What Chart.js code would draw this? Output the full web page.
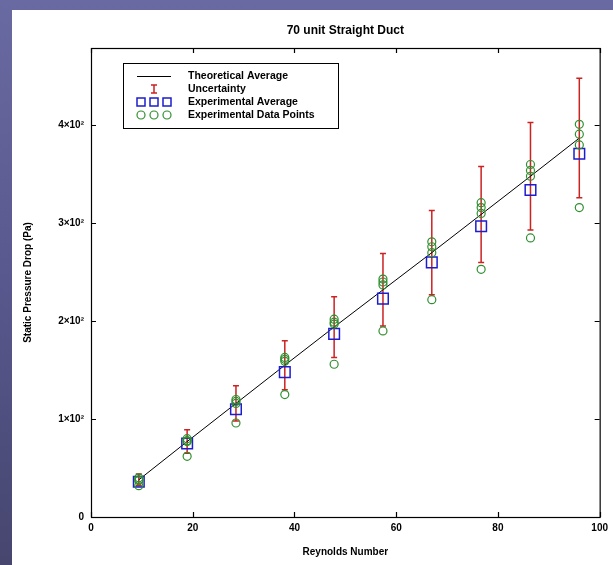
<!DOCTYPE html>
<html><head><meta charset="utf-8">
<script src="https://cdn.jsdelivr.net/npm/chart.js@4.4.1/dist/chart.umd.min.js"></script>
<style>
html,body{margin:0;padding:0;}
body{width:613px;height:565px;position:relative;overflow:hidden;background:linear-gradient(180deg,#6a6aa2 0%,#58588e 50%,#46466f 100%);}
#paper{position:absolute;left:12px;top:10px;right:0;bottom:0;background:#fff;}
canvas{position:absolute;left:0;top:0;}
</style></head><body>
<div id="paper"></div>
<canvas id="c" width="613" height="565"></canvas>
<script>
const chartTitle = '70 unit Straight Duct';
const xAxisTitle = 'Reynolds Number';
const yAxisTitle = 'Static Pressure Drop (Pa)';
const legendLabels = ['Theoretical Average', 'Uncertainty', 'Experimental Average', 'Experimental Data Points'];

const reynolds        = [9.4, 18.9, 28.5, 38.1, 47.8, 57.4, 67.0, 76.7, 86.4, 96.0];
const theoreticalAvg  = [38, 77, 116, 155, 194, 232, 270, 309, 348, 387];
const uncertainty     = [6, 12, 18, 25, 31, 37, 43, 49, 55, 61];
const experimentalAvg = [36, 75, 110, 148, 187, 223, 260, 297, 334, 371];
const trial1 = [40, 80, 120, 163, 202, 243, 281, 321, 360, 401];
const trial2 = [38, 78, 118, 161, 199, 240, 276, 316, 354, 391];
const trial3 = [37, 77, 116, 159, 197, 237, 270, 310, 348, 380];
const trial4 = [32, 62, 96, 125, 156, 190, 222, 253, 285, 316];

const xTicks = [0, 20, 40, 60, 80, 100];
const yTicks = [0, 100, 200, 300, 400];

const FONT = '"Liberation Sans", Arial, sans-serif';
const RED = '#cc2222', BLUE = '#1c1cd0', GREEN = '#2f8f2f';

const pts = ys => reynolds.map((r, i) => ({x: r, y: ys[i]}));
const allTrialPoints = [trial1, trial2, trial3, trial4].flatMap(t => pts(t));

const errorBars = {
  id: 'errorBars',
  beforeDatasetsDraw(chart) {
    const {ctx, scales: {x, y}} = chart;
    ctx.save();
    ctx.strokeStyle = RED; ctx.lineWidth = 1.5;
    reynolds.forEach((r, i) => {
      const px = x.getPixelForValue(r);
      const t = y.getPixelForValue(theoreticalAvg[i] + uncertainty[i]);
      const b = y.getPixelForValue(theoreticalAvg[i] - uncertainty[i]);
      ctx.beginPath();
      ctx.moveTo(px, t); ctx.lineTo(px, b);
      ctx.moveTo(px - 3, t); ctx.lineTo(px + 3, t);
      ctx.moveTo(px - 3, b); ctx.lineTo(px + 3, b);
      ctx.stroke();
    });
    ctx.restore();
  }
};

const frame = {
  id: 'frame',
  afterDraw(chart) {
    const {ctx, chartArea: a, scales: {x, y}} = chart;
    ctx.save();
    ctx.strokeStyle = '#000'; ctx.lineWidth = 1.2;
    ctx.strokeRect(a.left + 0.5, a.top + 0.5, a.right - a.left, a.bottom - a.top);
    ctx.beginPath();
    x.ticks.forEach(t => {
      const px = Math.round(x.getPixelForValue(t.value)) + 0.5;
      ctx.moveTo(px, a.bottom); ctx.lineTo(px, a.bottom - 5);
      ctx.moveTo(px, a.top); ctx.lineTo(px, a.top + 5);
    });
    y.ticks.forEach(t => {
      const py = Math.round(y.getPixelForValue(t.value)) + 0.5;
      ctx.moveTo(a.left, py); ctx.lineTo(a.left + 5, py);
      ctx.moveTo(a.right, py); ctx.lineTo(a.right - 5, py);
    });
    ctx.stroke();
    // title
    ctx.fillStyle = '#000';
    ctx.font = 'bold 12px ' + FONT;
    ctx.textAlign = 'center'; ctx.textBaseline = 'middle';
    ctx.fillText(chartTitle, (a.left + a.right) / 2, 31);
    // legend
    const L = 123, T = 63, W = 215, H = 65;
    ctx.fillStyle = '#fff';
    ctx.fillRect(L, T, W, H);
    ctx.lineWidth = 1;
    ctx.strokeRect(L + 0.5, T + 0.5, W, H);
    const rows = [T + 13, T + 26, T + 39, T + 52];
    ctx.font = 'bold 10.5px ' + FONT;
    ctx.textAlign = 'left';
    ctx.fillStyle = '#000';
    legendLabels.forEach((s, i) => ctx.fillText(s, 188, rows[i]));
    const cx = 154;
    ctx.beginPath(); ctx.strokeStyle = '#000'; ctx.lineWidth = 1;
    ctx.moveTo(137, rows[0] + 0.5); ctx.lineTo(171, rows[0] + 0.5); ctx.stroke();
    ctx.beginPath(); ctx.strokeStyle = RED; ctx.lineWidth = 1.5;
    ctx.moveTo(cx, rows[1] - 4); ctx.lineTo(cx, rows[1] + 4);
    ctx.moveTo(cx - 3, rows[1] - 4); ctx.lineTo(cx + 3, rows[1] - 4);
    ctx.moveTo(cx - 3, rows[1] + 4); ctx.lineTo(cx + 3, rows[1] + 4);
    ctx.stroke();
    ctx.strokeStyle = BLUE; ctx.lineWidth = 1.5;
    [-13, 0, 13].forEach(d => ctx.strokeRect(cx + d - 4, rows[2] - 4, 8, 8));
    ctx.strokeStyle = GREEN; ctx.lineWidth = 1.2;
    [-13, 0, 13].forEach(d => { ctx.beginPath(); ctx.arc(cx + d, rows[3], 4, 0, Math.PI * 2); ctx.stroke(); });
    ctx.restore();
  }
};

new Chart(document.getElementById('c'), {
  type: 'scatter',
  data: {
    datasets: [
      {label: legendLabels[3], data: allTrialPoints, order: 1, pointStyle: 'circle', pointRadius: 4,
       borderColor: GREEN, borderWidth: 1.2, backgroundColor: 'rgba(0,0,0,0)'},
      {label: legendLabels[2], data: pts(experimentalAvg), order: 2, pointStyle: 'rect', pointRadius: 7.5,
       borderColor: BLUE, borderWidth: 1.5, backgroundColor: 'rgba(0,0,0,0)'},
      {label: legendLabels[0], type: 'line', data: pts(theoreticalAvg), order: 3, showLine: true,
       borderColor: '#000', borderWidth: 1, pointRadius: 0, fill: false}
    ]
  },
  options: {
    responsive: false, animation: false, devicePixelRatio: 1,
    layout: {padding: {top: 48, right: 12, left: 0, bottom: 0}},
    plugins: {legend: {display: false}, tooltip: {enabled: false}, title: {display: false}},
    scales: {
      x: {
        type: 'linear', min: 0, max: 100,
        afterBuildTicks: s => { s.ticks = xTicks.map(v => ({value: v})); },
        afterFit: s => { s.height = 48; },
        grid: {display: false, drawTicks: false}, border: {display: false},
        ticks: {color: '#000', font: {family: FONT, size: 10, weight: 'bold'}, padding: 5, maxRotation: 0},
        title: {display: true, text: xAxisTitle, color: '#000', font: {family: FONT, size: 10, weight: 'bold'}, padding: {top: 0, bottom: 7}}
      },
      y: {
        type: 'linear', min: 0, max: 479,
        afterBuildTicks: s => { s.ticks = yTicks.map(v => ({value: v})); },
        afterFit: s => { s.width = 91; },
        grid: {display: false, drawTicks: false}, border: {display: false},
        ticks: {color: '#000', font: {family: FONT, size: 10, weight: 'bold'}, padding: 7,
                callback: v => v === 0 ? '0' : (v / 100) + '×10²'},
        title: {display: true, text: yAxisTitle, color: '#000', font: {family: FONT, size: 10, weight: 'bold'}, padding: {top: 22, bottom: 0}}
      }
    }
  },
  plugins: [errorBars, frame]
});
</script>
</body></html>
